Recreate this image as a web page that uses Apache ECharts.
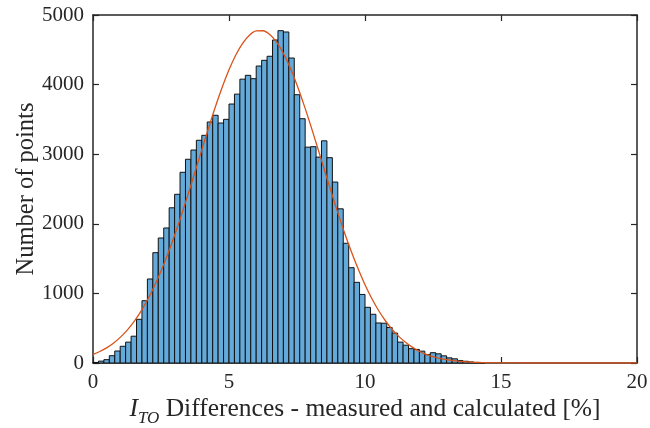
<!DOCTYPE html>
<html>
<head>
<meta charset="utf-8">
<script src="https://cdn.jsdelivr.net/npm/echarts@6/dist/echarts.min.js"></script>
<style>
  html, body { margin: 0; padding: 0; background: #fff; }
  #chart { width: 650px; height: 428px; }
</style>
</head>
<body>
<div id="chart"></div>
<script>
// Histogram of I_TO differences (bin width 0.2 %), starting at 0 %
const binWidth = 0.2;
const counts = [
  8, 27, 48, 105, 172, 240, 300, 385, 628, 895,
  1207, 1585, 1796, 1940, 2230, 2424, 2740, 2927, 3060, 3200,
  3271, 3463, 3559, 3448, 3501, 3721, 3863, 4078, 4133, 4085,
  4267, 4349, 4407, 4641, 4775, 4756, 4382, 3855, 3510, 3101,
  3108, 2958, 3192, 2950, 2600, 2215, 1720, 1369, 1159, 985,
  800, 700, 575, 572, 510, 430, 300, 256, 206, 195,
  170, 120, 148, 132, 103, 74, 60, 35, 25, 15,
  8, 4
];

// Fitted distribution curve
const fitX = [0, 0.25, 0.5, 0.75, 1, 1.25, 1.5, 1.75, 2, 2.25, 2.5, 2.75, 3, 3.25, 3.5, 3.75,
              4, 4.25, 4.5, 4.75, 5, 5.25, 5.5, 5.75, 6, 6.25, 6.5, 6.75, 7, 7.25, 7.5, 7.75,
              8, 8.25, 8.5, 8.75, 9, 9.25, 9.5, 9.75, 10, 10.25, 10.5, 10.75, 11, 11.25, 11.5, 11.75,
              12, 12.25, 12.5, 12.75, 13, 13.25, 13.5, 13.75, 14, 14.25, 14.75, 15, 16, 17, 18, 19, 20];
const fitY = [123, 165, 218, 285, 368, 469, 591, 735, 905, 1100, 1321, 1566, 1835, 2124, 2429, 2745,
              3063, 3379, 3682, 3962, 4213, 4426, 4593, 4710, 4771, 4774, 4720, 4610, 4449, 4241, 3995, 3716,
              3417, 3103, 2783, 2467, 2161, 1869, 1598, 1349, 1125, 927, 754, 607, 482, 379, 294, 225,
              165, 125, 90, 65, 48, 33, 23, 15, 10, 7, 3, 2, 0, 0, 0, 0, 0];

const xTicks = { min: 0, max: 20, interval: 5 };
const yTicks = { min: 0, max: 5000, interval: 1000 };

const axisColor = '#262626';
const serif = '"Liberation Serif", "DejaVu Serif", serif';

const barData = counts.map((c, i) => [i * binWidth, (i + 1) * binWidth, c]);
const fitData = fitX.map((x, i) => [x, fitY[i]]);

const chart = echarts.init(document.getElementById('chart'), null, { renderer: 'canvas' });

const baseX = {
  type: 'value', min: xTicks.min, max: xTicks.max, interval: xTicks.interval,
  axisLine: { show: true, onZero: false, lineStyle: { color: axisColor, width: 1.5 } },
  axisTick: { show: true, inside: true, length: 6, lineStyle: { color: axisColor, width: 1.2 } },
  splitLine: { show: false },
  nameMoveOverlap: false
};
const baseY = {
  type: 'value', min: yTicks.min, max: yTicks.max, interval: yTicks.interval,
  axisLine: { show: true, onZero: false, lineStyle: { color: axisColor, width: 1.5 } },
  axisTick: { show: true, inside: true, length: 6, lineStyle: { color: axisColor, width: 1.2 } },
  splitLine: { show: false },
  nameMoveOverlap: false
};

chart.setOption({
  animation: false,
  backgroundColor: '#ffffff',
  grid: { left: 93, right: 13, top: 15, bottom: 65, containLabel: false, outerBoundsMode: 'none' },
  xAxis: [
    Object.assign({}, baseX, {
      position: 'bottom',
      axisLabel: { show: true, color: axisColor, fontFamily: serif, fontSize: 21, margin: 9,
                   formatter: v => String(v) },
      name: '{i|I}{s|TO}{t| Differences - measured and calculated [%]}',
      nameLocation: 'middle',
      nameGap: 28,
      nameTextStyle: {
        color: axisColor,
        fontFamily: serif,
        rich: {
          i: { fontFamily: serif, fontStyle: 'italic', fontSize: 25.5, color: axisColor, verticalAlign: 'middle', lineHeight: 36 },
          s: { fontFamily: serif, fontStyle: 'italic', fontSize: 17, color: axisColor, verticalAlign: 'bottom', lineHeight: 36 },
          t: { fontFamily: serif, fontSize: 25.5, color: axisColor, verticalAlign: 'middle', lineHeight: 36 }
        }
      }
    }),
    Object.assign({}, baseX, { position: 'top', axisLabel: { show: false } })
  ],
  yAxis: [
    Object.assign({}, baseY, {
      position: 'left',
      axisLabel: { show: true, color: axisColor, fontFamily: serif, fontSize: 21, margin: 9,
                   formatter: v => String(v) },
      name: 'Number of points',
      nameLocation: 'middle',
      nameGap: 54,
      nameTextStyle: { color: axisColor, fontFamily: serif, fontSize: 24.5 }
    }),
    Object.assign({}, baseY, { position: 'right', axisLabel: { show: false } })
  ],
  series: [
    {
      type: 'custom',
      xAxisIndex: 0,
      yAxisIndex: 0,
      data: barData,
      encode: { x: [0, 1], y: 2 },
      renderItem: function (params, api) {
        const p0 = api.coord([api.value(0), api.value(2)]);
        const p1 = api.coord([api.value(1), 0]);
        return {
          type: 'rect',
          shape: { x: p0[0], y: p0[1], width: p1[0] - p0[0], height: p1[1] - p0[1] },
          style: { fill: '#63a9d9', stroke: '#111111', lineWidth: 1 }
        };
      },
      z: 2
    },
    {
      type: 'line',
      xAxisIndex: 0,
      yAxisIndex: 0,
      data: fitData,
      smooth: 0.3,
      showSymbol: false,
      symbol: 'none',
      lineStyle: { color: '#D95319', width: 1.3 },
      z: 3
    }
  ]
});
</script>
</body>
</html>
